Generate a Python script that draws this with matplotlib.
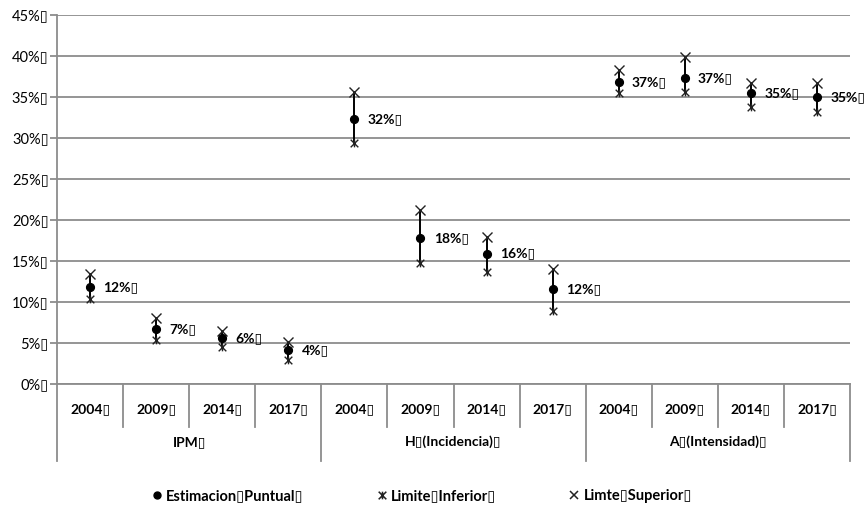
import matplotlib
matplotlib.use("Agg")
import matplotlib.pyplot as plt
from matplotlib.path import Path
from matplotlib.lines import Line2D

plt.rcParams['font.family'] = ['Lato', 'DejaVu Sans']

B = "\u25AF"
years = ["2004", "2009", "2014", "2017"]
groups = ["IPM", "H" + B + "(Incidencia)", "A" + B + "(Intensidad)"]
estimacion = [11.8, 6.7, 5.6, 4.1, 32.3, 17.8, 15.9, 11.6, 36.8, 37.3, 35.5, 35.0]
inferior = [10.4, 5.4, 4.5, 2.9, 29.4, 14.8, 13.7, 8.9, 35.5, 35.6, 33.8, 33.2]
superior = [13.4, 8.0, 6.5, 5.1, 35.6, 21.2, 17.9, 14.0, 38.3, 39.9, 36.7, 36.7]
etiquetas = ["12%", "7%", "6%", "4%", "32%", "18%", "16%", "12%", "37%", "37%", "35%", "35%"]
yticks = [0, 5, 10, 15, 20, 25, 30, 35, 40, 45]
legend_labels = ["Estimacion" + B + "Puntual" + B, "Limite" + B + "Inferior" + B, "Limte" + B + "Superior" + B]

star = Path([(-1, -1), (1, 1), (-1, 1), (1, -1), (0, -1), (0, 1)],
            [Path.MOVETO, Path.LINETO, Path.MOVETO, Path.LINETO, Path.MOVETO, Path.LINETO])

fig = plt.figure(figsize=(8.66, 5.11), dpi=100)
ax = fig.add_axes([57/866, 1-384/511, (850-57)/866, (384-15)/511])

grid_c = "#8c8c8c"
n = len(estimacion)
x = list(range(n))

ax.set_xlim(-0.5, n - 0.5)
ax.set_ylim(0, 45)
ax.set_yticks(yticks)
ax.set_yticklabels([f"{v}%{B}" for v in yticks], fontsize=10.5)
ax.yaxis.grid(True, color=grid_c, lw=1.3)
ax.set_axisbelow(True)
ax.set_xticks([])
for s in ["top", "right"]:
    ax.spines[s].set_visible(False)
ax.spines["left"].set_color(grid_c)
ax.spines["left"].set_linewidth(1.3)
ax.spines["bottom"].set_color(grid_c)
ax.spines["bottom"].set_linewidth(1.3)
ax.tick_params(axis="y", color=grid_c, width=1.3, length=5, pad=1)

ax.vlines(x, inferior, superior, color="black", lw=1.4, zorder=3)
ax.plot(x, inferior, linestyle="none", marker=star, ms=5.5, mec="#222222", mew=1.0, zorder=4)
ax.plot(x, superior, linestyle="none", marker="x", ms=6.5, mec="#222222", mew=1.0, zorder=4)
ax.plot(x, estimacion, linestyle="none", marker="o", ms=5.6, mfc="black", mec="black", zorder=5)

for xi, yi, lab in zip(x, estimacion, etiquetas):
    ax.annotate(lab + B, (xi, yi), xytext=(9.5, 0), textcoords="offset points",
                ha="left", va="center", fontsize=10, fontweight="bold")

tr = ax.get_xaxis_transform()
for i in range(n):
    ax.text(i, -25/369, years[i % 4] + B, transform=tr, ha="center", va="center",
            fontsize=10, fontweight="bold")
for b in range(n + 1):
    xb = b - 0.5
    depth = -77/369 if b % 4 == 0 else -43/369
    ax.plot([xb, xb], [0, depth], transform=tr, color=grid_c, lw=1.3, clip_on=False)
for g, name in enumerate(groups):
    ax.text(g * 4 + 1.5, -58/369, name + B, transform=tr, ha="center", va="center",
            fontsize=10, fontweight="bold")

handles = [
    Line2D([], [], linestyle="none", marker="o", ms=5, mfc="black", mec="black"),
    Line2D([], [], linestyle="none", marker=star, ms=5.5, mec="#222222", mew=1.1),
    Line2D([], [], linestyle="none", marker="x", ms=6, mec="#222222", mew=1.1),
]
fig.legend(handles, legend_labels, loc="center", bbox_to_anchor=(422/866, 1-496/511),
           ncol=3, frameon=False, prop={"size": 10.5, "weight": "bold"},
           handlelength=0.7, handletextpad=0.3, columnspacing=5.0)

fig.savefig("out.png", dpi=100)
